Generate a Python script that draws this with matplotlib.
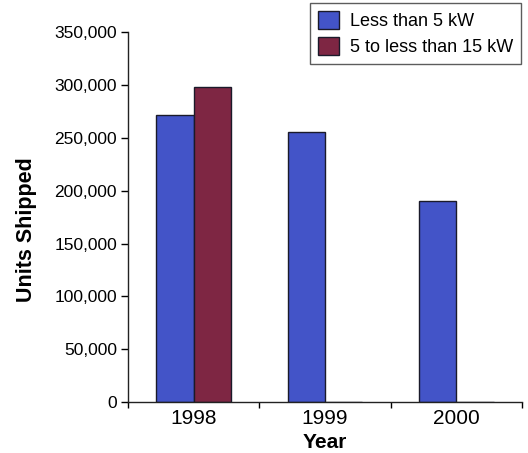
import matplotlib.pyplot as plt
from matplotlib.ticker import FuncFormatter
import numpy as np

years = ['1998', '1999', '2000']
less_than_5kw = [272000, 256000, 190000]
kw_5_to_15 = [298000, 0, 0]
series_names = ['Less than 5 kW', '5 to less than 15 kW']

blue = '#4354c8'
maroon = '#7e2643'

plt.rcParams['font.family'] = ['Liberation Sans', 'DejaVu Sans']

fig = plt.figure(figsize=(5.28, 4.53), dpi=100)
ax = fig.add_axes([0.2424, 0.1126, 0.7462, 0.8161])

x = np.arange(len(years))
w = 0.285
ax.bar(x - w / 2, less_than_5kw, w, color=blue, edgecolor='#1a1a2a', linewidth=1.0,
       label=series_names[0])
ax.bar(x + w / 2, kw_5_to_15, w, color=maroon, edgecolor='#1a1a2a', linewidth=1.0,
       label=series_names[1])

ax.set_xlim(-0.5, 2.5)
ax.set_ylim(0, 350000)
ax.set_yticks(np.arange(0, 350001, 50000))
ax.yaxis.set_major_formatter(FuncFormatter(lambda v, p: f'{int(v):,}'))
ax.tick_params(axis='y', labelsize=12.5, length=5, width=1, pad=3)

ax.set_xticks(x)
ax.set_xticklabels(years)
ax.set_xticks([-0.5, 0.5, 1.5, 2.5], minor=True)
ax.tick_params(axis='x', which='major', labelsize=15, length=0, pad=5)
ax.tick_params(axis='x', which='minor', length=4, width=1)

for s in ['top', 'right']:
    ax.spines[s].set_visible(False)
for s in ['left', 'bottom']:
    ax.spines[s].set_color('#222222')
    ax.spines[s].set_linewidth(1.0)

ax.set_xlabel('Year', fontsize=15, fontweight='bold', labelpad=4)
ax.set_ylabel('Units Shipped', fontsize=15.5, fontweight='bold')
ax.yaxis.set_label_coords(-0.231, 0.465)

leg = fig.legend(loc='upper right', bbox_to_anchor=(0.987, 0.994), fontsize=13,
                 frameon=True, fancybox=False, edgecolor='#333333',
                 handlelength=1.15, handleheight=1.15, handletextpad=0.6,
                 borderpad=0.45, labelspacing=0.4, borderaxespad=0)
leg.get_frame().set_linewidth(1.0)

fig.savefig('out.png', dpi=100)
